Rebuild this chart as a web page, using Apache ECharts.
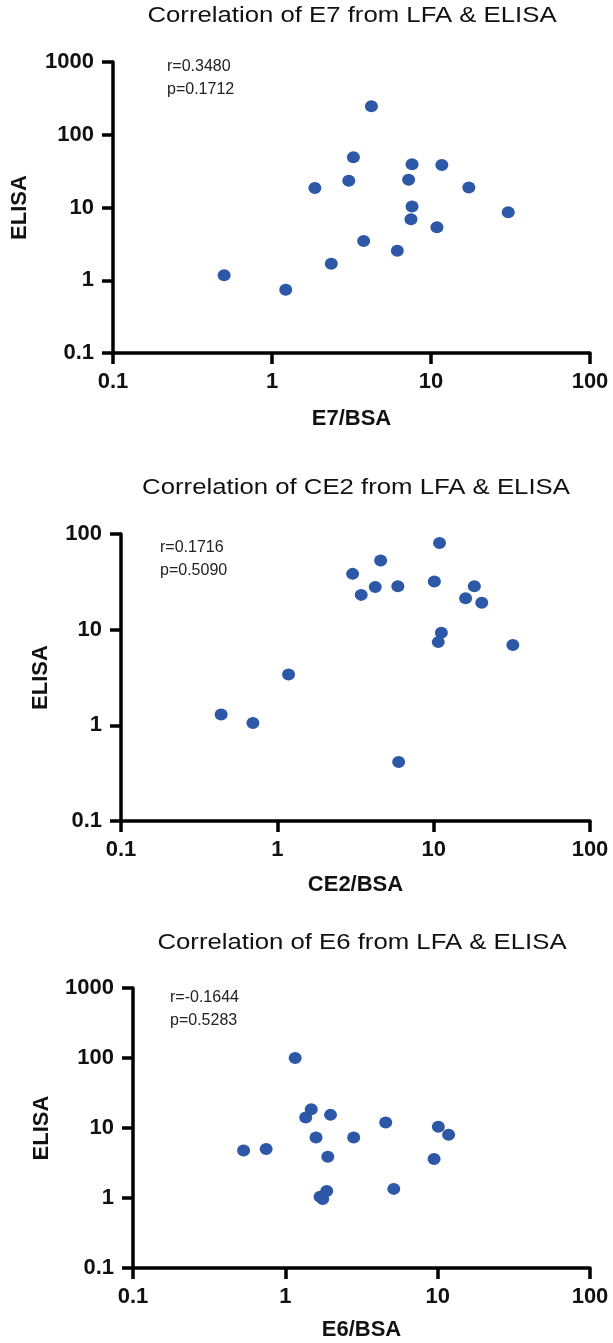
<!DOCTYPE html>
<html>
<head>
<meta charset="utf-8">
<script src="https://cdn.jsdelivr.net/npm/echarts@6/dist/echarts.min.js"></script>
<style>
  html, body { margin: 0; padding: 0; background: #fff; }
  #chart { width: 613px; height: 1343px; }
</style>
</head>
<body>
<div id="chart"></div>
<script>
// E7 panel
const e7X = [0.50, 1.22, 2.36, 1.86, 3.04, 3.25, 4.22, 3.77, 6.14, 7.23, 7.60, 7.60, 7.48, 10.9, 11.7, 17.3, 30.6]
const e7Y = [1.17, 0.74, 1.69, 18.5, 23.3, 49, 247, 3.47, 2.55, 24.1, 39.2, 10.3, 6.9, 5.35, 38.4, 18.9, 8.63]
// CE2 panel
const ce2X = [0.437, 0.698, 1.18, 3.03, 3.44, 4.23, 4.58, 5.90, 5.97, 10.1, 10.9, 11.2, 10.7, 16.0, 18.2, 20.3, 32.1]
const ce2Y = [1.30, 1.06, 3.39, 38.3, 23.1, 28.0, 52.7, 28.5, 0.413, 31.8, 80.6, 9.29, 7.41, 21.3, 28.5, 19.1, 6.90]
// E6 panel
const e6X = [0.532, 0.748, 1.16, 1.36, 1.48, 1.59, 1.98, 1.90, 1.87, 1.69, 1.76, 2.81, 4.56, 5.15, 9.47, 10.1, 11.8]
const e6Y = [4.78, 5.0, 100, 14.1, 18.5, 7.33, 15.4, 3.89, 1.26, 1.04, 0.97, 7.33, 12.0, 1.35, 3.60, 10.4, 8.0]

const titles = [
  'Correlation of E7 from LFA & ELISA',
  'Correlation of CE2 from LFA & ELISA',
  'Correlation of E6 from LFA & ELISA'
]
const xNames = ['E7/BSA', 'CE2/BSA', 'E6/BSA']
const yName = 'ELISA'
const stats = [
  ['r=0.3480', 'p=0.1712'],
  ['r=0.1716', 'p=0.5090'],
  ['r=-0.1644', 'p=0.5283']
]
const xRange = [0.1, 100]
const yRanges = [[0.1, 1000], [0.1, 100], [0.1, 1000]]

const panelData = [[e7X, e7Y], [ce2X, ce2Y], [e6X, e6Y]]

const FONT = '"Liberation Sans", Arial, sans-serif'
const dotColor = '#2d57a7'

// grid boxes of the three panels
const grids = [
  { left: 113, top: 62, width: 477, height: 291 },
  { left: 121, top: 534, width: 469, height: 287 },
  { left: 133, top: 988, width: 457, height: 280 }
]
const yNameGaps = [82, 69, 80]
const xNameGaps = [55, 53, 51]
const titlePos = [[352, 16], [356, 488], [362, 943]]
const statPos = [[167, 66], [160, 547], [170, 997]]

const fmt = v => String(+Number(v).toPrecision(3))

const axisCommon = {
  type: 'log',
  logBase: 10,
  axisLine: { show: true, lineStyle: { color: '#000', width: 3.5 } },
  axisTick: { show: true, length: 11, lineStyle: { color: '#000', width: 3.5 } },
  splitLine: { show: false },
  minorTick: { show: false },
  axisLabel: {
    color: '#111',
    fontFamily: FONT,
    fontWeight: 'bold',
    fontSize: 22,
    formatter: fmt
  },
  nameLocation: 'middle',
  nameTextStyle: { color: '#111', fontFamily: FONT, fontWeight: 'bold', fontSize: 22 }
}

const option = {
  backgroundColor: '#fff',
  animation: false,
  grid: grids.map(g => Object.assign({ containLabel: false, outerBoundsMode: 'none' }, g)),
  xAxis: grids.map((g, i) => Object.assign({}, axisCommon, {
    gridIndex: i,
    min: xRange[0],
    max: xRange[1],
    name: xNames[i],
    nameGap: xNameGaps[i],
    axisLabel: Object.assign({}, axisCommon.axisLabel, { margin: 18 })
  })),
  yAxis: grids.map((g, i) => Object.assign({}, axisCommon, {
    gridIndex: i,
    min: yRanges[i][0],
    max: yRanges[i][1],
    name: yName,
    nameGap: yNameGaps[i],
    axisLabel: Object.assign({}, axisCommon.axisLabel, { margin: 19 })
  })),
  series: panelData.map((d, i) => ({
    type: 'scatter',
    xAxisIndex: i,
    yAxisIndex: i,
    symbol: 'circle',
    symbolSize: [13, 12],
    itemStyle: { color: dotColor, opacity: 1 },
    data: d[0].map((x, k) => [x, d[1][k]])
  })),
  graphic: [].concat(
    titles.map((t, i) => ({
      type: 'text',
      x: titlePos[i][0],
      y: titlePos[i][1],
      scaleX: 1.17,
      style: {
        text: t,
        fill: '#111',
        font: '22px ' + FONT,
        align: 'center',
        verticalAlign: 'middle'
      }
    })),
    stats.map((s, i) => ({
      type: 'text',
      x: statPos[i][0],
      y: statPos[i][1] - 11,
      style: {
        text: s.join('\n'),
        fill: '#222',
        font: '16px ' + FONT,
        lineHeight: 23,
        align: 'left',
        verticalAlign: 'top'
      }
    }))
  )
}

echarts.init(document.getElementById('chart'), null, { renderer: 'canvas' }).setOption(option)
</script>
</body>
</html>
